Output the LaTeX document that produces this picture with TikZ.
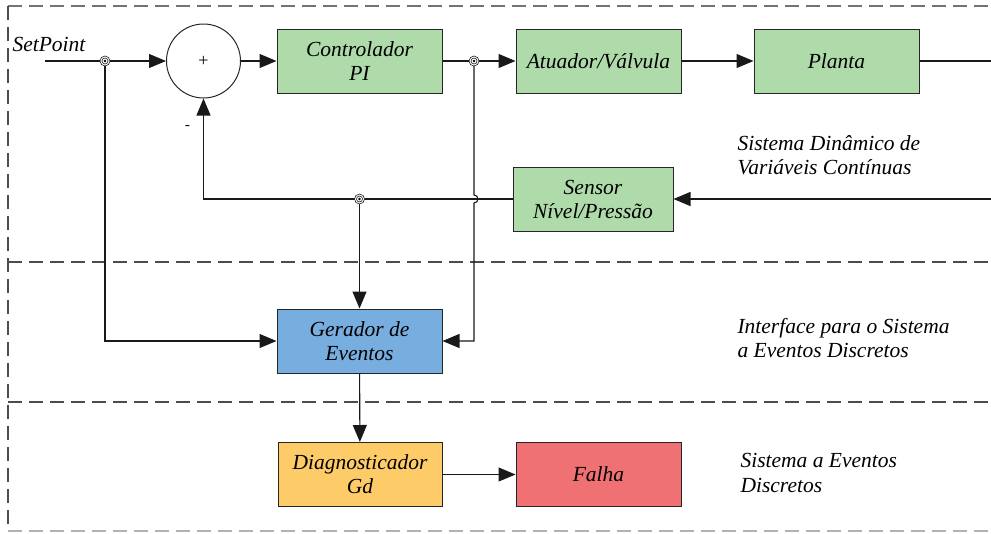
\documentclass[tikz,border=0pt]{standalone}
\usepackage{fontspec}
\setmainfont{Liberation Serif}[ItalicFont={Liberation Serif Italic}]
\newfontfamily\blocofont{Liberation Serif}[ItalicFont={Liberation Serif Italic}]
\usepackage{tikz}
\usetikzlibrary{positioning,arrows.meta}
\usepackage{xcolor}
\definecolor{blkgreen}{HTML}{AFDAA9}
\definecolor{blkblue}{HTML}{78ADDF}
\definecolor{blkorange}{HTML}{FDCC69}
\definecolor{blkred}{HTML}{F07174}

\tikzset{
  bloco/.style={draw=black!85,line width=1pt,minimum width=165pt,minimum height=64pt,
    align=center,inner sep=0pt,font=\blocofont\fontsize{21.5}{24}\selectfont\itshape},
  rotulo/.style={anchor=west,align=left,inner sep=0pt,font=\blocofont\fontsize{21.5}{24.5}\selectfont\itshape},
  arr/.style={-{Triangle[length=17pt,width=14pt]}},
  sep/.style={dash pattern=on 14pt off 7pt,line width=1.3pt},
}

\begin{document}
\begin{tikzpicture}[x=1pt,y=-1pt,line width=1.1pt,draw=black!90]
    \useasboundingbox (0,0) rectangle (991,533);
    % camadas do sistema
    \draw[sep,black!55] (8,6) -- (991,6);
    \draw[sep,black!70] (8,6) -- (8,531);
    \draw[sep,black!70] (8,262) -- (991,262);
    \draw[sep,black!70] (8,402) -- (991,402);
    \draw[sep,black!30] (8,531) -- (991,531);

    \node[circle,draw=black!85,line width=1pt,minimum size=74pt,inner sep=0pt,
          font=\blocofont\fontsize{18}{18}\selectfont] (soma) at (203.5,61) {+};
    \node[bloco,fill=blkgreen] (ctrl) at (359.5,61) {Controlador\\PI};
    \node[bloco,fill=blkgreen] (atuador) at (598.5,61) {Atuador/Válvula};
    \node[bloco,fill=blkgreen] (planta) at (836.5,61) {Planta};
    \node[bloco,fill=blkgreen,minimum width=160pt] (sensor) at (593,199) {Sensor\\Nível/Pressão};
    \node[bloco,fill=blkblue] (gerador) at (359.5,341) {Gerador de\\Eventos};
    \node[bloco,fill=blkorange,minimum width=164pt] (diag) at (360,474.5) {Diagnosticador\\Gd};
    \node[bloco,fill=blkred] (falha) at (598.5,474.5) {Falha};

    \coordinate (sp) at (45,61);
    \coordinate (saida) at (991,61);
    \coordinate (medida) at (991,199);
    \coordinate (j1) at (105,61);
    \coordinate (j2) at (474,61);
    \coordinate (j3) at (359.5,199);

    \node[rotulo] (setpoint) at (12,44) {SetPoint};
    \node[font=\sffamily\bfseries\fontsize{15}{15}\selectfont] (menos) at (188,128) {-};

    \draw (sp) -- (j1);
    \draw[arr] (j1) -- (soma);
    \draw[arr] (soma) -- (ctrl);
    \draw (ctrl) -- (j2);
    \draw[arr] (j2) -- (atuador);
    \draw[arr] (atuador) -- (planta);
    \draw (planta) -- (saida);
    \draw[arr] (medida) -- (sensor);
    \draw[arr] (sensor.west) -- (j3) -| (soma.south);
    \draw[arr] (j3) -- (gerador);
    \draw[arr] (j1) |- (gerador.west);
    \draw[arr] (j2) -- (474,195) arc[start angle=90,end angle=-90,radius=4pt]
      -- (474,341) -- (gerador.east);
    \draw[arr] (gerador) -- (diag);
    \draw[arr] (diag) -- (falha);

    \foreach \j in {j1,j2,j3} {
      \filldraw[fill=white,line width=0.6pt] (\j) circle (5pt);
      \draw[line width=0.6pt] (\j) circle (3pt);
      \fill (\j) circle (1.3pt);
    }

    \node[rotulo] (nivel1) at (737,155) {Sistema Dinâmico de\\Variáveis Contínuas};
    \node[rotulo] (nivel2) at (737,338) {Interface para o Sistema\\a Eventos Discretos};
    \node[rotulo] (nivel3) at (740,473) {Sistema a Eventos\\Discretos};
\end{tikzpicture}
\end{document}
